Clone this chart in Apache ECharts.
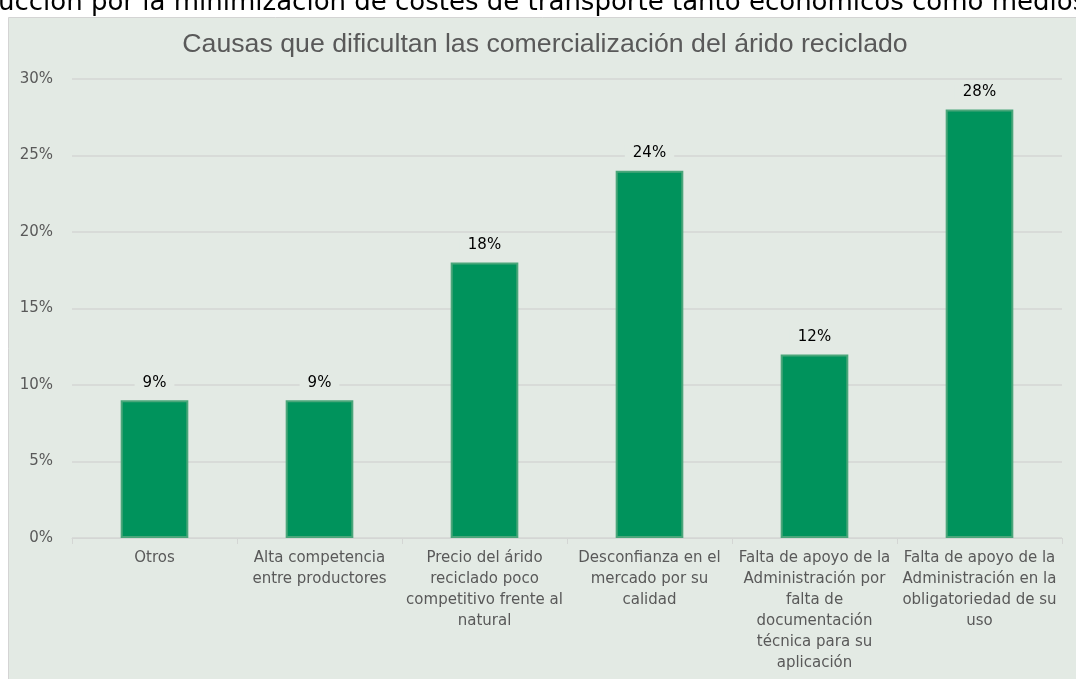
<!DOCTYPE html>
<html>
<head>
<meta charset="utf-8">
<script src="https://cdn.jsdelivr.net/npm/echarts@6/dist/echarts.min.js"></script>
<style>
html,body{margin:0;padding:0;background:#fff;}
#main{width:1076px;height:679px;}
</style>
</head>
<body>
<div id="main"></div>
<script>
const topLine = "ucción por la minimización de costes de transporte tanto económicos como medios";
const chartTitle = "Causas que dificultan las comercialización del árido reciclado";
const categories = [
  "Otros",
  "Alta competencia\nentre productores",
  "Precio del árido\nreciclado poco\ncompetitivo frente al\nnatural",
  "Desconfianza en el\nmercado por su\ncalidad",
  "Falta de apoyo de la\nAdministración por\nfalta de\ndocumentación\ntécnica para su\naplicación",
  "Falta de apoyo de la\nAdministración en la\nobligatoriedad de su\nuso"
];
const values = [0.09, 0.09, 0.18, 0.24, 0.12, 0.28];
const yMin = 0, yMax = 0.30, yStep = 0.05;

const BG = '#e3eae4';
const chart = echarts.init(document.getElementById('main'), null, {renderer: 'canvas'});
chart.setOption({
  backgroundColor: '#ffffff',
  animation: false,
  graphic: [
    {type: 'rect', z: -10, shape: {x: 8.5, y: 17.5, width: 1080, height: 700},
     style: {fill: BG, stroke: '#d4d4d4', lineWidth: 1}},
    {type: 'text', left: -2, top: -10, z: 10,
     style: {text: topLine, fontSize: 26, fontFamily: 'DejaVu Sans', fill: '#000'}},
    {type: 'text', x: 545, y: 45, z: 10,
     style: {text: chartTitle, fontSize: 26.7, fontFamily: 'Liberation Sans Narrow, Liberation Sans',
             fill: '#595959', align: 'center', verticalAlign: 'middle'}}
  ],
  grid: {left: 72, right: 14, top: 79, bottom: 141, containLabel: false},
  xAxis: {
    type: 'category',
    data: categories,
    axisLine: {lineStyle: {color: '#d4d6d4', width: 1}},
    axisTick: {show: true, length: 6, lineStyle: {color: '#d4d6d4'}},
    axisLabel: {interval: 0, color: '#595959', fontSize: 15, lineHeight: 21, margin: 10,
                fontFamily: 'DejaVu Sans'}
  },
  yAxis: {
    type: 'value',
    min: yMin, max: yMax, interval: yStep,
    axisLine: {show: false},
    axisTick: {show: false},
    splitLine: {lineStyle: {color: '#d4d6d4', width: 1.5}},
    axisLabel: {color: '#595959', fontSize: 15, margin: 19, fontFamily: 'DejaVu Sans',
                formatter: v => Math.round(v * 100) + '%'}
  },
  series: [{
    type: 'bar',
    data: values,
    barWidth: '41%',
    itemStyle: {color: '#00935c', borderColor: '#4aa67a', borderWidth: 2},
    label: {show: true, position: 'top', distance: 10, color: '#000', fontSize: 15,
            fontFamily: 'DejaVu Sans',
            backgroundColor: BG, padding: [0, 8],
            formatter: p => Math.round(p.value * 100) + '%'}
  }]
});
</script>
</body>
</html>
